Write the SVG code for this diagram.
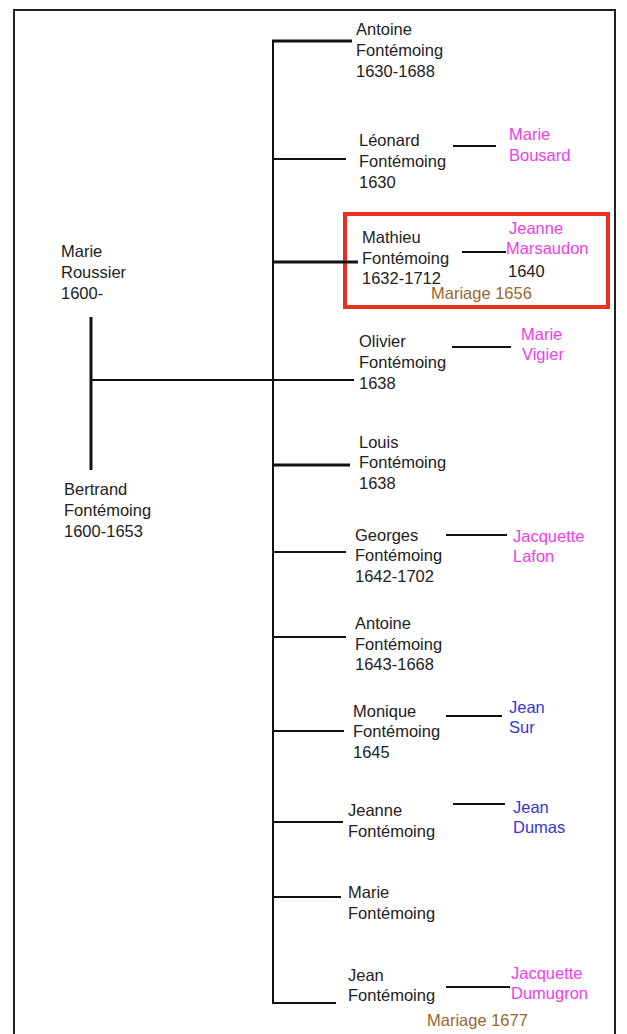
<svg xmlns="http://www.w3.org/2000/svg" width="627" height="1034" viewBox="0 0 627 1034">
<style>
text{font-family:"Liberation Sans",Arial,sans-serif;font-size:16.5px;fill:#222}
.f{fill:#ee3ee8}
.b{fill:#3535d8}
.m{fill:#9a6530}
.l{stroke:#111;stroke-width:2;fill:none}
.t{stroke:#111;stroke-width:3;fill:none}
</style>
<rect x="0" y="0" width="627" height="1034" fill="#fff"/>
<rect x="14" y="10" width="601" height="1032" fill="none" stroke="#222" stroke-width="2"/>
<rect id="highlight" x="345" y="214" width="263" height="93" fill="none" stroke="#e8321e" stroke-width="4"/>
<g id="connectors">
<line class="l" x1="273" y1="41" x2="273" y2="1004"/>
<line class="t" x1="272" y1="41" x2="352" y2="41"/>
<line class="l" x1="273" y1="159" x2="346" y2="159"/>
<line class="t" x1="273" y1="262" x2="358" y2="262"/>
<line class="l" x1="91" y1="380" x2="354" y2="380"/>
<line class="t" x1="272" y1="465" x2="350" y2="465"/>
<line class="l" x1="273" y1="552" x2="346" y2="552"/>
<line class="l" x1="272" y1="637" x2="346" y2="637"/>
<line class="l" x1="273" y1="731" x2="344" y2="731"/>
<line class="l" x1="272" y1="822" x2="343" y2="822"/>
<line class="l" x1="273" y1="897" x2="341" y2="897"/>
<line class="l" x1="273" y1="1003" x2="336" y2="1003"/>
<line class="t" x1="91" y1="317" x2="91" y2="470"/>
<line class="l" x1="453" y1="146" x2="496" y2="146"/>
<line class="l" x1="462" y1="252" x2="506" y2="252"/>
<line class="l" x1="452" y1="347" x2="511" y2="347"/>
<line class="l" x1="446" y1="535" x2="507" y2="535"/>
<line class="l" x1="446" y1="716" x2="502" y2="716"/>
<line class="l" x1="453" y1="804" x2="505" y2="804"/>
<line class="l" x1="446" y1="987" x2="510" y2="987"/>
</g>
<g id="parent-marie-roussier"><text x="61" y="257">Marie</text><text x="61" y="278">Roussier</text><text x="61" y="299">1600-</text></g>
<g id="parent-bertrand"><text x="64" y="495">Bertrand</text><text x="64" y="516">Fontémoing</text><text x="64" y="537">1600-1653</text></g>
<g id="antoine1"><text x="356" y="35">Antoine</text><text x="356" y="56">Fontémoing</text><text x="356" y="77">1630-1688</text></g>
<g id="leonard"><text x="359" y="146">Léonard</text><text x="359" y="167">Fontémoing</text><text x="359" y="188">1630</text></g>
<g id="marie-bousard"><text class="f" x="509" y="140">Marie</text><text class="f" x="509" y="161">Bousard</text></g>
<g id="mathieu"><text x="362" y="243">Mathieu</text><text x="362" y="264">Fontémoing</text><text x="362" y="284">1632-1712</text></g>
<g id="jeanne-marsaudon"><text class="f" x="509" y="234">Jeanne</text><text class="f" x="506" y="254">Marsaudon</text><text x="508" y="277">1640</text></g>
<g id="mariage1656"><text class="m" x="431" y="299">Mariage 1656</text></g>
<g id="olivier"><text x="359" y="347">Olivier</text><text x="359" y="368">Fontémoing</text><text x="359" y="389">1638</text></g>
<g id="marie-vigier"><text class="f" x="521" y="340">Marie</text><text class="f" x="522" y="360">Vigier</text></g>
<g id="louis"><text x="359" y="448">Louis</text><text x="359" y="468">Fontémoing</text><text x="359" y="489">1638</text></g>
<g id="georges"><text x="355" y="541">Georges</text><text x="355" y="561">Fontémoing</text><text x="355" y="582">1642-1702</text></g>
<g id="jacquette-lafon"><text class="f" x="513" y="542">Jacquette</text><text class="f" x="513" y="562">Lafon</text></g>
<g id="antoine2"><text x="355" y="629">Antoine</text><text x="355" y="650">Fontémoing</text><text x="355" y="670">1643-1668</text></g>
<g id="monique"><text x="353" y="717">Monique</text><text x="353" y="737">Fontémoing</text><text x="353" y="758">1645</text></g>
<g id="jean-sur"><text class="b" x="509" y="713">Jean</text><text class="b" x="509" y="733">Sur</text></g>
<g id="jeanne"><text x="348" y="816">Jeanne</text><text x="348" y="837">Fontémoing</text></g>
<g id="jean-dumas"><text class="b" x="513" y="813">Jean</text><text class="b" x="513" y="833">Dumas</text></g>
<g id="marie"><text x="348" y="898">Marie</text><text x="348" y="919">Fontémoing</text></g>
<g id="jean"><text x="348" y="981">Jean</text><text x="348" y="1001">Fontémoing</text></g>
<g id="jacquette-dumugron"><text class="f" x="511" y="979">Jacquette</text><text class="f" x="511" y="999">Dumugron</text></g>
<g id="mariage1677"><text class="m" x="427" y="1026">Mariage 1677</text></g>
</svg>
